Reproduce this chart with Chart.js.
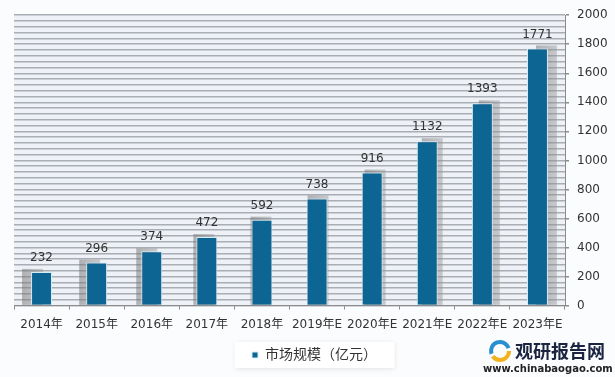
<!DOCTYPE html>
<html>
<head>
<meta charset="utf-8">
<script src="https://cdn.jsdelivr.net/npm/chart.js@4"></script>
<style>
html,body{margin:0;padding:0;background:#fbfcfd;}
#wrap{width:615px;height:377px;position:relative;}
</style>
</head>
<body>
<div id="wrap"><canvas id="c" width="615" height="377"></canvas></div>
<script>
const categories = ["2014年","2015年","2016年","2017年","2018年","2019年E","2020年E","2021年E","2022年E","2023年E"];
const marketSize = [232,296,374,472,592,738,916,1132,1393,1771];
const seriesName = "市场规模（亿元）";
const watermarkTitle = "观研报告网";
const watermarkUrl = "www.chinabaogao.com";

const FONT = "'DejaVu Sans','Noto Sans CJK SC',sans-serif";

const bgPlugin = {
  id: 'bg',
  beforeDraw(chart) {
    const ctx = chart.ctx, a = chart.chartArea;
    ctx.save();
    ctx.fillStyle = '#fbfcfd';
    ctx.fillRect(0, 0, chart.width, chart.height);
    ctx.fillStyle = '#eef2f7';
    ctx.fillRect(a.left, a.top, a.right - a.left, a.bottom - a.top);
    ctx.restore();
  },
  beforeDatasetsDraw(chart) {
    const ctx = chart.ctx;
    const meta = chart.getDatasetMeta(0);
    const n = meta.data.length;
    ctx.save();
    meta.data.forEach((bar, i) => {
      const dx = (i - (n - 1) / 2) * 2;
      const dy = -3;
      const w = bar.width;
      const x0 = bar.x - w / 2 + dx;
      const g = ctx.createLinearGradient(x0, 0, x0 + w, 0);
      g.addColorStop(0, 'rgba(110,110,110,0.5)');
      g.addColorStop(1, 'rgba(150,150,150,0.45)');
      ctx.fillStyle = g;
      ctx.fillRect(x0, bar.y + dy, w, bar.base - bar.y - dy);
    });
    ctx.restore();
  },
  afterDatasetsDraw(chart) {
    const ctx = chart.ctx;
    const meta = chart.getDatasetMeta(0);
    ctx.save();
    ctx.font = "12px " + FONT;
    ctx.fillStyle = '#333333';
    ctx.textAlign = 'center';
    ctx.textBaseline = 'middle';
    meta.data.forEach((bar, i) => {
      ctx.fillText(String(marketSize[i]), bar.x, bar.y - 14);
    });
    ctx.restore();
  }
};

const legendBoxPlugin = {
  id: 'legendBox',
  afterDraw(chart) {
    const ctx = chart.ctx;
    ctx.save();
    ctx.lineWidth = 4;
    ctx.strokeStyle = '#2a8fd0';
    ctx.beginPath();
    ctx.arc(500, 351, 9, Math.PI * 0.9, Math.PI * 1.9);
    ctx.stroke();
    ctx.strokeStyle = '#f2b21c';
    ctx.beginPath();
    ctx.arc(500, 351, 9, Math.PI * 0.0, Math.PI * 0.8);
    ctx.stroke();
    ctx.fillStyle = '#1b2440';
    ctx.font = "bold 18px 'Noto Sans CJK SC',sans-serif";
    ctx.textAlign = 'left';
    ctx.textBaseline = 'middle';
    ctx.fillText(watermarkTitle, 515, 351);
    ctx.font = "bold 10px 'DejaVu Sans',sans-serif";
    ctx.fillStyle = '#222';
    ctx.fillText(watermarkUrl, 483, 369);
    ctx.restore();
  },
  beforeDraw(chart) {
    const lg = chart.legend;
    if (!lg || !lg.legendHitBoxes || !lg.legendHitBoxes.length) return;
    const hb = lg.legendHitBoxes[0];
    const cx = hb.left + hb.width / 2;
    const cy = hb.top + hb.height / 2;
    const ctx = chart.ctx;
    ctx.save();
    ctx.shadowColor = 'rgba(0,0,0,0.10)';
    ctx.shadowBlur = 5;
    ctx.shadowOffsetY = 1;
    ctx.fillStyle = '#ffffff';
    ctx.fillRect(cx - 80, cy - 13, 160, 26);
    ctx.restore();
  }
};

new Chart(document.getElementById('c'), {
  type: 'bar',
  data: {
    labels: categories,
    datasets: [{
      label: seriesName,
      data: marketSize,
      backgroundColor: '#0d6594',
      borderColor: '#d6ecf8',
      borderWidth: 1,
      barPercentage: 0.38,
      categoryPercentage: 1.0
    }]
  },
  options: {
    responsive: false,
    animation: false,
    devicePixelRatio: 1,
    layout: { padding: { left: 14, top: 6, right: 0, bottom: 5 } },
    plugins: {
      legend: {
        position: 'bottom',
        labels: {
          boxWidth: 6, boxHeight: 6,
          color: '#333333',
          font: { size: 14, family: FONT },
          padding: 8
        }
      },
      tooltip: { enabled: false }
    },
    scales: {
      x: {
        offset: true,
        grid: {
          offset: true,
          drawOnChartArea: false,
          drawTicks: true,
          tickLength: 4,
          color: '#8c8c8c'
        },
        border: { display: true, color: '#8c8c8c', width: 1 },
        ticks: {
          color: '#333333',
          font: { size: 12, family: FONT },
          padding: 8,
          maxRotation: 0,
          autoSkip: false
        }
      },
      y: {
        position: 'right',
        min: 0,
        max: 2000,
        grid: {
          color: '#a9aeb5',
          lineWidth: 1.5,
          drawTicks: true,
          tickLength: 4,
          tickColor: (ctx) => (ctx.tick && ctx.tick.value % 200 === 0) ? '#8c8c8c' : 'rgba(0,0,0,0)'
        },
        border: { display: true, color: '#8c8c8c', width: 1 },
        ticks: {
          stepSize: 40,
          autoSkip: false,
          color: '#333333',
          font: { size: 12, family: FONT },
          padding: 8,
          callback: (v) => (v % 200 === 0) ? String(v) : ''
        },
        afterFit(scale) { scale.width = 50; }
      }
    }
  },
  plugins: [bgPlugin, legendBoxPlugin]
});
</script>
</body>
</html>
